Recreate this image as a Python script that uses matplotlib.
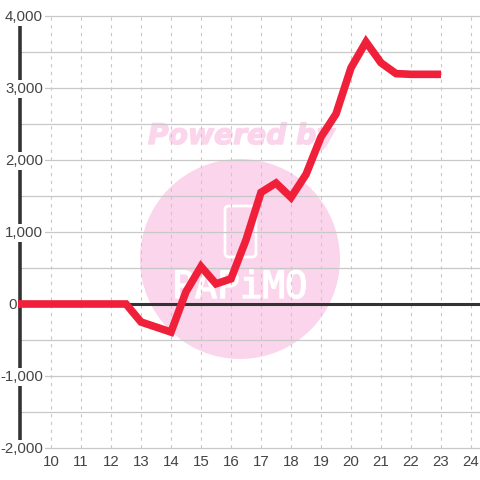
import matplotlib
matplotlib.use('Agg')
import matplotlib.pyplot as plt
import matplotlib.patheffects as pe
from matplotlib.patches import Circle, FancyBboxPatch
from matplotlib.transforms import IdentityTransform

hours = [8.9, 10, 11, 12, 12.5, 13, 13.5, 14, 14.5, 15, 15.5, 16, 16.5, 17, 17.5, 18, 18.5, 19, 19.5, 20, 20.5, 21, 21.5, 22, 22.5, 23]
values = [0, 0, 0, 0, 0, -250, -320, -390, 170, 520, 280, 350, 890, 1550, 1680, 1480, 1800, 2320, 2640, 3280, 3640, 3350, 3200, 3190, 3190, 3190]
x_ticks = list(range(10, 25))
y_ticks = [-2000, -1000, 0, 1000, 2000, 3000, 4000]
y_minor = [-1500, -500, 500, 1500, 2500, 3500]

GRID = '#c8c8c8'
DARK = '#333333'
TEXT = '#444444'
RED = '#f0203a'
PINK = '#fbd5ec'

plt.rcParams['font.family'] = ['Liberation Sans', 'DejaVu Sans']
fig = plt.figure(figsize=(4.8, 4.8), dpi=100)
ax = fig.add_axes([20 / 480, 32 / 480, 460 / 480, 432 / 480])
ax.set_xlim(10 - 31 / 30, 10 + 429 / 30)
ax.set_ylim(-2000, 4000)
for s in ax.spines.values():
    s.set_visible(False)
ax.tick_params(left=False, bottom=False, labelleft=False, labelbottom=False)

def px(x, y):
    return x, 480 - y

ident = IdentityTransform()
ax.add_patch(Circle(px(240, 259), 100, transform=ident, color=PINK, lw=0, zorder=1, clip_on=False))
ax.text(*px(241.5, 136), 'Powered by', transform=ident, color=PINK, fontsize=20.3, fontweight='bold',
        fontstyle='italic', family='DejaVu Sans', ha='center', va='center', zorder=1,
        path_effects=[pe.withStroke(linewidth=1, foreground=PINK)])
ax.add_patch(FancyBboxPatch(px(225, 257), 31, 51, boxstyle='round,pad=0,rounding_size=4', transform=ident,
                            fc='none', ec='white', lw=2, zorder=1.5, clip_on=False))
ax.text(*px(240, 288), 'PAPiMO', transform=ident, color='white', fontsize=27, family='DejaVu Sans Mono',
        ha='center', va='center', zorder=1.5,
        path_effects=[pe.withStroke(linewidth=1, foreground='white')])

for y in y_ticks + y_minor:
    ax.axhline(y, color=GRID, lw=0.9, zorder=2, clip_on=False)
for x in x_ticks:
    ax.axvline(x, color=GRID, lw=0.8, ls=(0, (3, 4)), zorder=2)

ax.axhline(0, color=DARK, lw=2.2, zorder=3)
ax.plot([ax.get_xlim()[0]] * 2, [-2000, 4000], color=DARK, lw=2.6, zorder=3, clip_on=False, solid_capstyle='butt')

for y in y_ticks:
    if y == 0:
        ax.annotate('0', (0, y), xycoords=('axes fraction', 'data'), xytext=(-2.4, -0.7),
                    textcoords='offset points', ha='right', va='center',
                    fontsize=10.8, color=TEXT, zorder=6, annotation_clip=False)
    else:
        ax.annotate(f'{y:,}', (0, y), xycoords=('axes fraction', 'data'), xytext=(16.5, -0.7),
                    textcoords='offset points', ha='right', va='center',
                    fontsize=10.8, color=TEXT, zorder=3.5, annotation_clip=False,
                    bbox=dict(fc='white', ec='none', pad=1.5))
ax.plot(hours, values, color=RED, lw=5.5, zorder=4, solid_joinstyle='miter', solid_capstyle='butt', clip_on=False)

for x in x_ticks:
    ax.annotate(str(x), (x, 0), xycoords=('data', 'axes fraction'), xytext=(0, -10.2),
                textcoords='offset points', ha='center', va='center', fontsize=10.8, color=TEXT,
                annotation_clip=False)
fig.savefig('out.png', dpi=100)
